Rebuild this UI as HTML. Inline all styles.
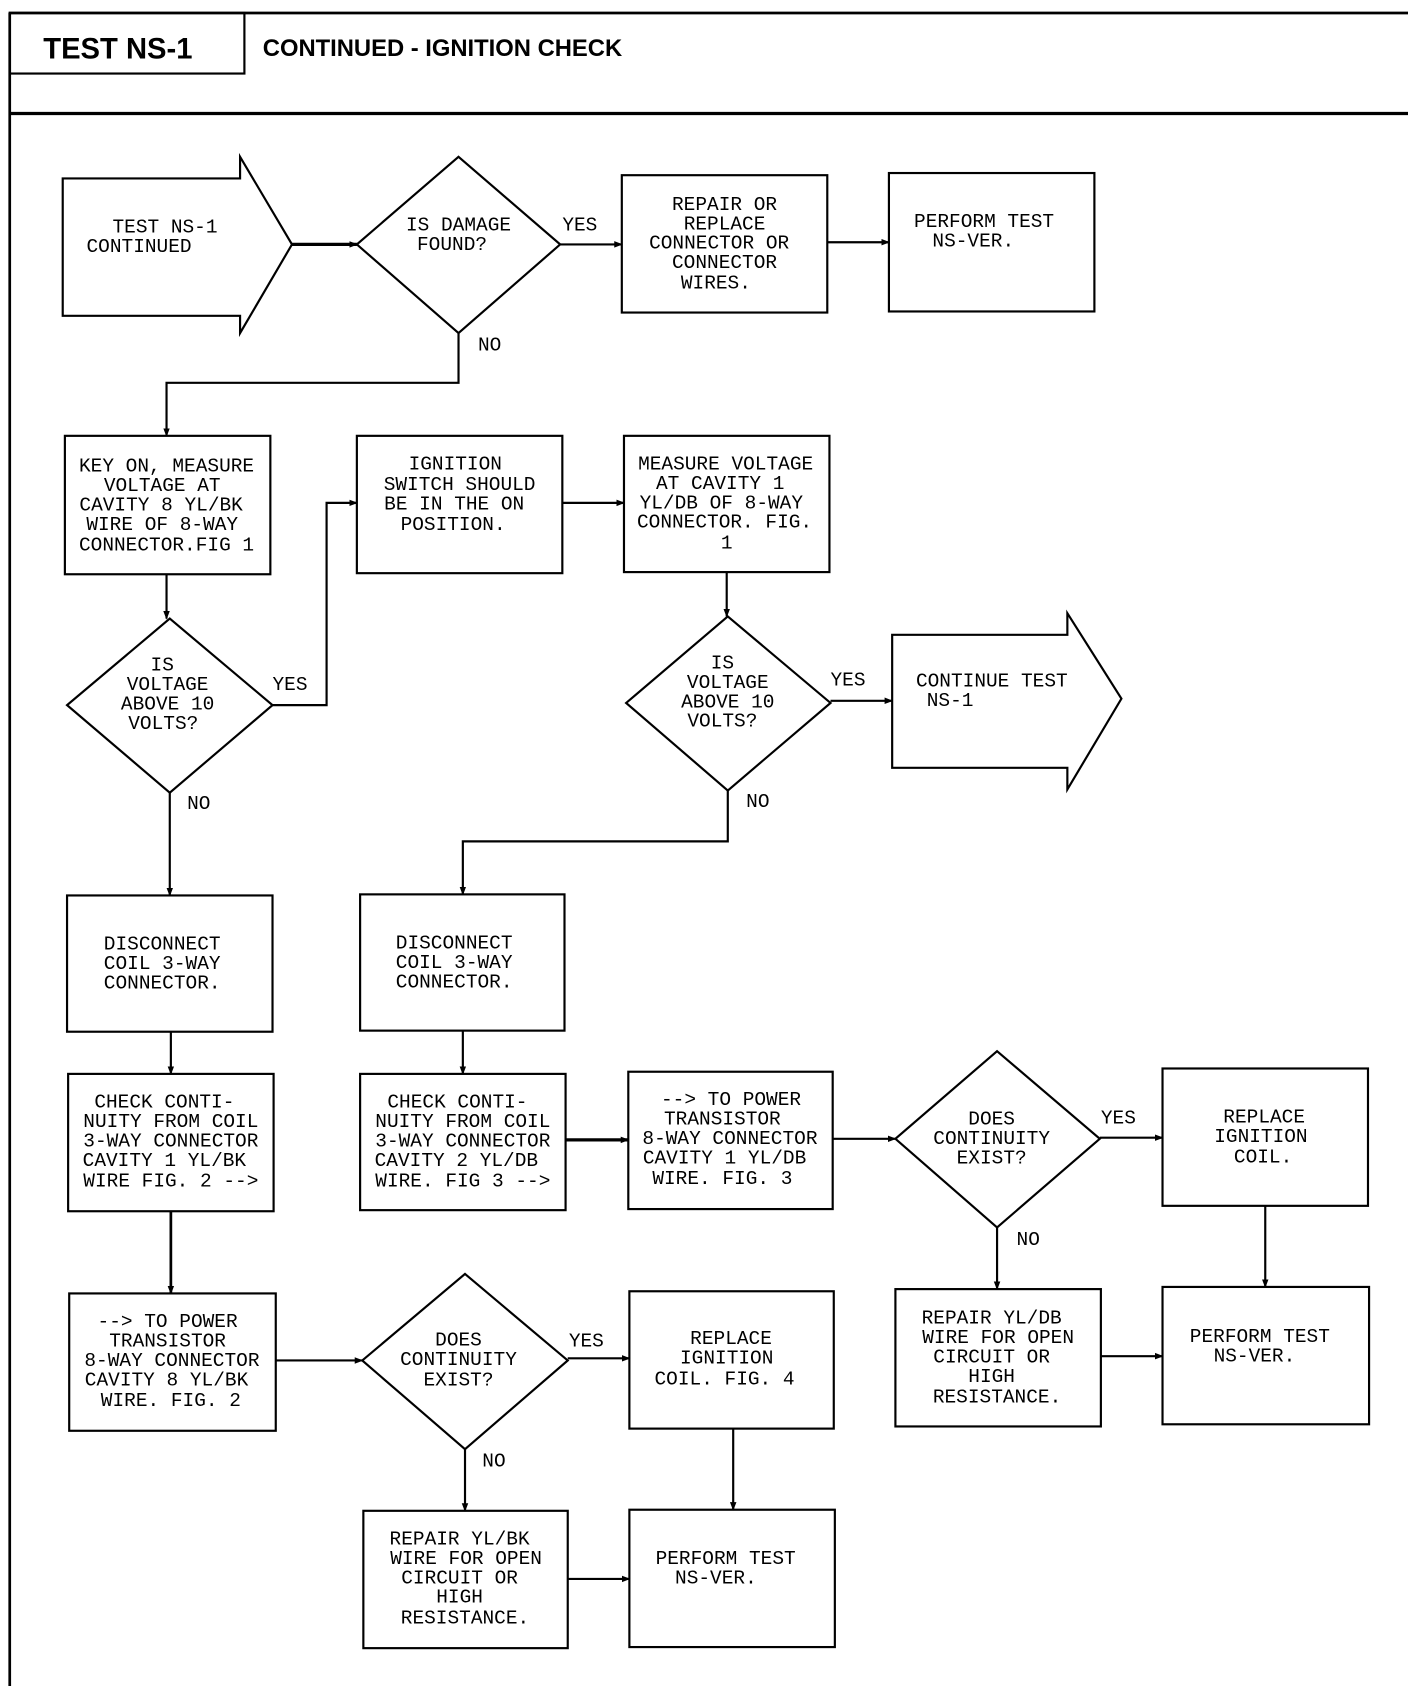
<!DOCTYPE html>
<html><head><meta charset="utf-8"><style>
html,body{margin:0;padding:0;background:#fff;}
svg{display:block;}
text{font-family:"Liberation Mono",monospace;font-size:18px;fill:#000;}
.c{text-anchor:middle;}
</style></head><body>
<svg width="1408" height="1686" viewBox="0 0 1302 1559" preserveAspectRatio="none" xmlns="http://www.w3.org/2000/svg">
<defs><marker id="a" markerWidth="8" markerHeight="8" refX="7" refY="4" orient="auto" markerUnits="userSpaceOnUse"><path d="M0,1 L8,4 L0,7 z" fill="#000"/></marker></defs>
<g fill="none" stroke="#000" stroke-width="2">
<!-- header -->
<line x1="8" y1="12" x2="1302" y2="12" stroke-width="2.5"/>
<line x1="8" y1="105" x2="1302" y2="105" stroke-width="3"/>
<line x1="9" y1="12" x2="9" y2="1559" stroke-width="2.5"/>
<rect x="9" y="12" width="217" height="56"/>
<!-- start arrow -->
<path d="M58,165 L222,165 L222,145 L270,226 L222,308 L222,292 L58,292 Z"/>
<polygon points="424,145 518,226 424,308 330,226"/>
<rect x="575" y="162" width="190" height="127"/>
<rect x="822" y="160" width="190" height="128"/>
<line x1="270" y1="226" x2="330" y2="226" stroke-width="3" marker-end="url(#a)"/>
<line x1="518" y1="226" x2="575" y2="226" marker-end="url(#a)"/>
<line x1="765" y1="224" x2="822" y2="224" marker-end="url(#a)"/>
<polyline points="424,308 424,354 154,354 154,403" marker-end="url(#a)"/>
<rect x="60" y="403" width="190" height="128"/>
<rect x="330" y="403" width="190" height="127"/>
<rect x="577" y="403" width="190" height="126"/>
<line x1="520" y1="465" x2="577" y2="465" marker-end="url(#a)"/>
<line x1="154" y1="531" x2="154" y2="572" marker-end="url(#a)"/>
<polygon points="157,572 252,652 157,733 62,652"/>
<polyline points="252,652 302,652 302,465 330,465" marker-end="url(#a)"/>
<line x1="157" y1="733" x2="157" y2="828" marker-end="url(#a)"/>
<line x1="672" y1="529" x2="672" y2="570" marker-end="url(#a)"/>
<polygon points="673,570 768,650 673,731 579,650"/>
<line x1="768" y1="648" x2="825" y2="648" marker-end="url(#a)"/>
<path d="M825,587 L987,587 L987,567 L1037,646 L987,730 L987,710 L825,710 Z"/>
<polyline points="673,731 673,778 428,778 428,827" marker-end="url(#a)"/>
<rect x="62" y="828" width="190" height="126"/>
<rect x="333" y="827" width="189" height="126"/>
<line x1="158" y1="954" x2="158" y2="993" marker-end="url(#a)"/>
<line x1="428" y1="953" x2="428" y2="993" marker-end="url(#a)"/>
<rect x="63" y="993" width="190" height="127"/>
<rect x="333" y="993" width="190" height="126"/>
<rect x="581" y="991" width="189" height="127"/>
<line x1="523" y1="1054" x2="581" y2="1054" stroke-width="3" marker-end="url(#a)"/>
<line x1="770" y1="1053" x2="828" y2="1053" marker-end="url(#a)"/>
<polygon points="922,972 1017,1053 922,1135 828,1053"/>
<line x1="1017" y1="1052" x2="1075" y2="1052" marker-end="url(#a)"/>
<rect x="1075" y="988" width="190" height="127"/>
<line x1="922" y1="1135" x2="922" y2="1192" marker-end="url(#a)"/>
<rect x="828" y="1192" width="190" height="127"/>
<line x1="1170" y1="1115" x2="1170" y2="1190" marker-end="url(#a)"/>
<rect x="1075" y="1190" width="191" height="127"/>
<line x1="1018" y1="1254" x2="1075" y2="1254" marker-end="url(#a)"/>
<line x1="158" y1="1120" x2="158" y2="1196" stroke-width="2.5" marker-end="url(#a)"/>
<rect x="64" y="1196" width="191" height="127"/>
<line x1="255" y1="1258" x2="335" y2="1258" marker-end="url(#a)"/>
<polygon points="430,1178 525,1258 430,1340 335,1258"/>
<line x1="525" y1="1256" x2="582" y2="1256" marker-end="url(#a)"/>
<rect x="582" y="1194" width="189" height="127"/>
<line x1="430" y1="1340" x2="430" y2="1397" marker-end="url(#a)"/>
<rect x="336" y="1397" width="189" height="127"/>
<line x1="678" y1="1321" x2="678" y2="1396" marker-end="url(#a)"/>
<rect x="582" y="1396" width="190" height="127"/>
<line x1="525" y1="1460" x2="582" y2="1460" marker-end="url(#a)"/>
</g>
<text x="40" y="54" style="font-family:'Liberation Sans',sans-serif;font-weight:bold;font-size:27px">TEST NS-1</text>
<text x="243" y="52" style="font-family:'Liberation Sans',sans-serif;font-weight:bold;font-size:22px">CONTINUED - IGNITION CHECK</text>

<text x="104" y="215">TEST NS-1</text><text x="80" y="233">CONTINUED</text>
<text class="c" x="424" y="213">IS DAMAGE</text><text class="c" x="418" y="231">FOUND?</text>
<text x="520" y="213">YES</text><text x="442" y="324">NO</text>
<g class="c"><text class="c" x="670" y="194">REPAIR OR</text><text class="c" x="670" y="212">REPLACE</text><text class="c" x="665" y="230">CONNECTOR OR</text><text class="c" x="670" y="248">CONNECTOR</text><text class="c" x="662" y="267">WIRES.</text></g>
<text class="c" x="910" y="210">PERFORM TEST</text><text class="c" x="900" y="228">NS-VER.</text>
<text class="c" x="154" y="436">KEY ON, MEASURE</text><text class="c" x="150" y="454">VOLTAGE AT</text><text class="c" x="149" y="472">CAVITY 8 YL/BK</text><text class="c" x="150" y="490">WIRE OF 8-WAY</text><text class="c" x="154" y="509">CONNECTOR.FIG 1</text>
<text class="c" x="421" y="434">IGNITION</text><text class="c" x="425" y="453">SWITCH SHOULD</text><text class="c" x="420" y="471">BE IN THE ON</text><text class="c" x="419" y="490">POSITION.</text>
<text class="c" x="671" y="434">MEASURE VOLTAGE</text><text class="c" x="666" y="452">AT CAVITY 1</text><text class="c" x="667" y="470">YL/DB OF 8-WAY</text><text class="c" x="670" y="488">CONNECTOR. FIG.</text><text class="c" x="672" y="507">1</text>
<text class="c" x="150" y="620">IS</text><text class="c" x="155" y="638">VOLTAGE</text><text class="c" x="155" y="656">ABOVE 10</text><text class="c" x="151" y="674">VOLTS?</text>
<text x="252" y="638">YES</text><text x="173" y="748">NO</text>
<text class="c" x="668" y="618">IS</text><text class="c" x="673" y="636">VOLTAGE</text><text class="c" x="673" y="654">ABOVE 10</text><text class="c" x="668" y="672">VOLTS?</text>
<text x="768" y="634">YES</text><text x="690" y="746">NO</text>
<text x="847" y="635">CONTINUE TEST</text><text x="857" y="653">NS-1</text>
<text x="96" y="878">DISCONNECT</text><text x="96" y="896">COIL 3-WAY</text><text x="96" y="914">CONNECTOR.</text>
<text x="366" y="877">DISCONNECT</text><text x="366" y="895">COIL 3-WAY</text><text x="366" y="913">CONNECTOR.</text>
<text class="c" x="152" y="1024">CHECK CONTI-</text><text class="c" x="158" y="1042">NUITY FROM COIL</text><text class="c" x="158" y="1060">3-WAY CONNECTOR</text><text class="c" x="152" y="1078">CAVITY 1 YL/BK</text><text class="c" x="158" y="1097">WIRE FIG. 2 --&gt;</text>
<text class="c" x="423" y="1024">CHECK CONTI-</text><text class="c" x="428" y="1042">NUITY FROM COIL</text><text class="c" x="428" y="1060">3-WAY CONNECTOR</text><text class="c" x="422" y="1078">CAVITY 2 YL/DB</text><text class="c" x="428" y="1097">WIRE. FIG 3 --&gt;</text>
<text class="c" x="676" y="1022">--&gt; TO POWER</text><text class="c" x="668" y="1040">TRANSISTOR</text><text class="c" x="675" y="1058">8-WAY CONNECTOR</text><text class="c" x="670" y="1076">CAVITY 1 YL/DB</text><text class="c" x="668" y="1095">WIRE. FIG. 3</text>
<text class="c" x="917" y="1040">DOES</text><text class="c" x="917" y="1058">CONTINUITY</text><text class="c" x="917" y="1076">EXIST?</text>
<text x="1018" y="1039">YES</text><text x="940" y="1151">NO</text>
<text class="c" x="1169" y="1038">REPLACE</text><text class="c" x="1166" y="1056">IGNITION</text><text class="c" x="1168" y="1075">COIL.</text>
<text class="c" x="917" y="1224">REPAIR YL/DB</text><text class="c" x="923" y="1242">WIRE FOR OPEN</text><text class="c" x="917" y="1260">CIRCUIT OR</text><text class="c" x="917" y="1278">HIGH</text><text class="c" x="922" y="1297">RESISTANCE.</text>
<text class="c" x="1165" y="1241">PERFORM TEST</text><text class="c" x="1160" y="1259">NS-VER.</text>
<text class="c" x="155" y="1227">--&gt; TO POWER</text><text class="c" x="155" y="1245">TRANSISTOR</text><text class="c" x="159" y="1263">8-WAY CONNECTOR</text><text class="c" x="154" y="1281">CAVITY 8 YL/BK</text><text class="c" x="158" y="1300">WIRE. FIG. 2</text>
<text class="c" x="424" y="1244">DOES</text><text class="c" x="424" y="1262">CONTINUITY</text><text class="c" x="424" y="1281">EXIST?</text>
<text x="526" y="1245">YES</text><text x="446" y="1356">NO</text>
<text class="c" x="676" y="1243">REPLACE</text><text class="c" x="672" y="1261">IGNITION</text><text class="c" x="670" y="1280">COIL. FIG. 4</text>
<text class="c" x="425" y="1428">REPAIR YL/BK</text><text class="c" x="431" y="1446">WIRE FOR OPEN</text><text class="c" x="425" y="1464">CIRCUIT OR</text><text class="c" x="425" y="1482">HIGH</text><text class="c" x="430" y="1501">RESISTANCE.</text>
<text class="c" x="671" y="1446">PERFORM TEST</text><text class="c" x="662" y="1464">NS-VER.</text>
</svg>
</body></html>
